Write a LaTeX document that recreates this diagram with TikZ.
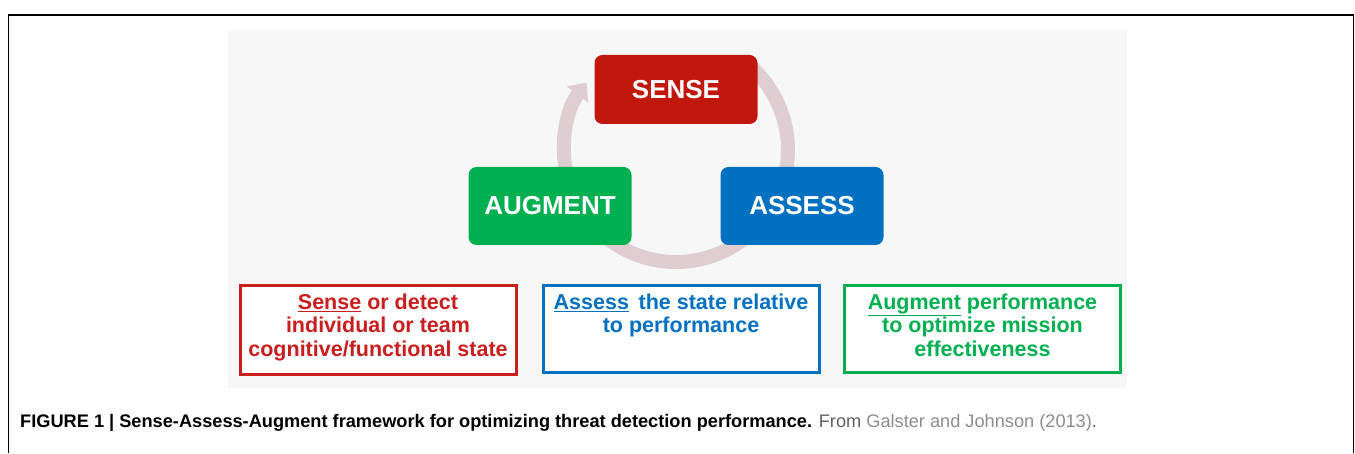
\documentclass[tikz,border=0pt]{standalone}
\usepackage{fontspec}
\setmainfont{Liberation Sans}
\usetikzlibrary{arrows.meta,positioning}
\definecolor{senseRed}{RGB}{192,24,12}
\definecolor{assessBlue}{RGB}{0,112,192}
\definecolor{augmentGreen}{RGB}{0,176,80}
\definecolor{boxRed}{RGB}{200,30,30}
\definecolor{arcGray}{RGB}{222,206,209}
\definecolor{bgGray}{RGB}{247,247,247}
\definecolor{capGray}{RGB}{95,95,95}
\definecolor{linkGray}{RGB}{140,140,140}
\begin{document}
\begin{tikzpicture}[x=1pt,y=1pt,
    stage/.style={rounded corners=8pt, minimum width=163pt, minimum height=78pt, text=white, font=\fontsize{26}{30}\selectfont\bfseries},
    descbox/.style={draw=#1, line width=3pt, fill=white, minimum width=276pt, minimum height=86pt},
    desctext/.style={text=#1, align=center, inner sep=0pt, anchor=north, font=\fontsize{21.5}{23.5}\selectfont\bfseries},
    cyclearc/.style={line width=14pt, draw=arcGray}]
    \useasboundingbox (0,0) rectangle (1355,453);
    % frame
    \draw [line width=1.5pt] (8.5,0) -- (8.5,438) -- (1353.5,438) -- (1353.5,0);
    \fill [bgGray] (228,65) rectangle (1127,423);
    % cycle
    \draw [cyclearc, -{Triangle[width=26pt,length=15pt]}] (676,303) ++(195:112) arc (195:143:112);
    \draw [cyclearc] (676,303) ++(50:112) arc (50:-15:112);
    \draw [cyclearc] (676,303) ++(-50:112) arc (-50:-130:112);
    % stages
    \node [stage, fill=senseRed, minimum height=69pt] (sense) at (676,363.5) {SENSE};
    \node [stage, fill=assessBlue] (assess) at (802,247) {ASSESS};
    \node [stage, fill=augmentGreen] (augment) at (550,247) {AUGMENT};
    % descriptions
    \node [descbox=boxRed, minimum height=88pt] (sensebox) at (378,123) {};
    \node [descbox=assessBlue] (assessbox) at (681,124) {};
    \node [descbox=augmentGreen] (augmentbox) at (982.5,124) {};
    \node [desctext=boxRed, below=9pt of sensebox.north] (sensetxt) {\underline{Sense} or detect\\individual or team\\cognitive/functional state};
    \node [desctext=assessBlue, below=9pt of assessbox.north] (assesstxt) {\underline{Assess}\, the state relative\\to performance};
    \node [desctext=augmentGreen, below=9pt of augmentbox.north] (augmenttxt) {\underline{Augment} performance\\to optimize mission\\effectiveness};
    % caption
    \node [anchor=base west, inner sep=0pt, font=\fontsize{18.2}{21}\selectfont] (caption) at (20,26) {\textbf{FIGURE 1 | Sense-Assess-Augment framework for optimizing threat detection performance.} \textcolor{capGray}{From} \textcolor{linkGray}{Galster and Johnson (2013)}\textcolor{capGray}{.}};
\end{tikzpicture}
\end{document}
